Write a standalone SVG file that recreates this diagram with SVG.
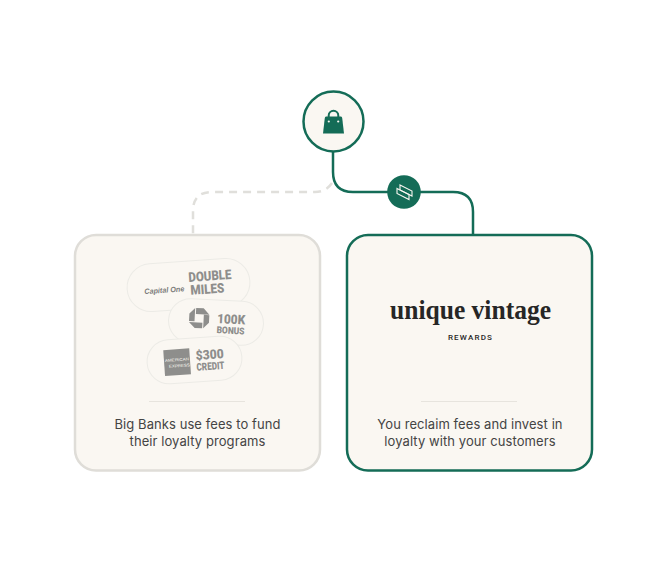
<svg xmlns="http://www.w3.org/2000/svg" width="665" height="561" viewBox="0 0 665 561">
<style>
.card{fill:#faf7f2;stroke-width:2.5}
.rule{stroke:#e7e4de;stroke-width:1.2;fill:none}
.body{font-family:Inter,"Liberation Sans",sans-serif;font-size:13px;letter-spacing:.08px;fill:#444;text-anchor:middle}
.pill{fill:#faf7f2;stroke:#ecebe6;stroke-width:1}
.bank{font-family:Roboto,"Liberation Sans",sans-serif;font-weight:900;fill:#8e8e8c}
.green{stroke:#146c57;stroke-width:2.5;fill:none}
</style>
<g id="connectors">
<path d="M333 152V172Q333 192 353 192H453Q473 192 473 212V235" class="green"/>
<path d="M332 183Q326 192 315 192H212Q193 192 193 211V235" fill="none" stroke="#e0dfdb" stroke-width="2.500" stroke-dasharray="8 6"/>
</g>
<g id="bag-node">
<circle cx="333.500" cy="121.500" r="30" fill="#faf7f2" stroke="#146c57" stroke-width="2.500"/>
<path d="M328.700 117V115.500a4.800 4.800 0 0 1 9.600 0V117" fill="none" stroke="#146c57" stroke-width="2"/>
<path d="M326 116.500H341Q342 116.500 342.200 118L344 133.500H323L324.800 118Q325 116.500 326 116.500Z" fill="#146c57"/>
<circle cx="328.800" cy="121.500" r="1.100" fill="#faf7f2"/>
<circle cx="338.200" cy="121.500" r="1.100" fill="#faf7f2"/>
</g>
<g id="exchange-node">
<circle cx="404" cy="192" r="16.800" fill="#146c57"/>
<g fill="none" stroke="#faf7f2" stroke-width="1.100">
<path d="M400 185L412 191V196L400 190Z"/>
<path d="M397 188.500L409 194.500V199.500L397 193.500Z"/>
</g>
</g>
<g id="banks-card">
<rect class="card" x="75" y="235" width="245" height="235.500" rx="21" stroke="#dfddd8"/>
<g id="pill-capital-one" transform="rotate(-4 188.500 285)">
<rect class="pill" x="127" y="261" width="123" height="48" rx="24"/>
<text x="144" y="291" font-family="Liberation Sans,sans-serif" font-style="italic" font-weight="700" font-size="7.500" fill="#7c7c7a" textLength="40" lengthAdjust="spacingAndGlyphs">Capital One</text>
<text class="bank" x="189" y="282" font-size="13.500" textLength="43" lengthAdjust="spacingAndGlyphs">DOUBLE</text>
<text class="bank" x="190" y="295" font-size="13.500" textLength="34" lengthAdjust="spacingAndGlyphs">MILES</text>
</g>
<g id="pill-chase" transform="rotate(3 216 322)">
<rect class="pill" x="168.500" y="300" width="95" height="44" rx="22"/>
<path d="M195.500 309H203L209 315H195.500Z M203.500 315.500H209V323L203.500 329Z M202.500 323.500V329H195L189 323.500Z M194.500 322.500H189V315L194.500 309Z" fill="#8e8e8c"/>
<text class="bank" x="217" y="323" font-size="13" textLength="28" lengthAdjust="spacingAndGlyphs">100K</text>
<text class="bank" x="217" y="333" font-size="9.500" textLength="28" lengthAdjust="spacingAndGlyphs">BONUS</text>
</g>
<g id="pill-amex" transform="rotate(-4 194.500 360)">
<rect class="pill" x="147" y="338" width="95" height="44" rx="22"/>
<rect x="164" y="348" width="26" height="26" fill="#8e8e8c"/>
<text x="177" y="360" font-family="Liberation Sans,sans-serif" font-size="4" fill="#faf7f2" text-anchor="middle" textLength="24" lengthAdjust="spacingAndGlyphs">AMERICAN</text>
<text x="179" y="366" font-family="Liberation Sans,sans-serif" font-size="4" fill="#faf7f2" text-anchor="middle" textLength="21" lengthAdjust="spacingAndGlyphs">EXPRESS</text>
<text class="bank" x="196" y="360" font-size="13" textLength="28" lengthAdjust="spacingAndGlyphs">$300</text>
<text class="bank" x="196" y="371" font-size="10.500" font-weight="500" textLength="28" lengthAdjust="spacingAndGlyphs">CREDIT</text>
</g>
<line class="rule" x1="149" y1="401.500" x2="245" y2="401.500"/>
<text class="body" x="197.500" y="429">Big Banks use fees to fund</text>
<text class="body" x="197.500" y="445.500">their loyalty programs</text>
</g>
<g id="rewards-card">
<rect class="card" x="347" y="235" width="245" height="235.500" rx="21" stroke="#146c57"/>
<text x="470.500" y="319" font-family="Liberation Serif,serif" font-weight="700" font-size="27" fill="#262626" text-anchor="middle" textLength="161" lengthAdjust="spacingAndGlyphs">unique vintage</text>
<text x="470.500" y="340" font-family="Roboto,Liberation Sans,sans-serif" font-weight="500" font-size="8" letter-spacing="1.200" fill="#262626" text-anchor="middle">REWARDS</text>
<line class="rule" x1="421" y1="401.500" x2="517" y2="401.500"/>
<text class="body" x="470" y="429">You reclaim fees and invest in</text>
<text class="body" x="470" y="445.500">loyalty with your customers</text>
</g>
</svg>
